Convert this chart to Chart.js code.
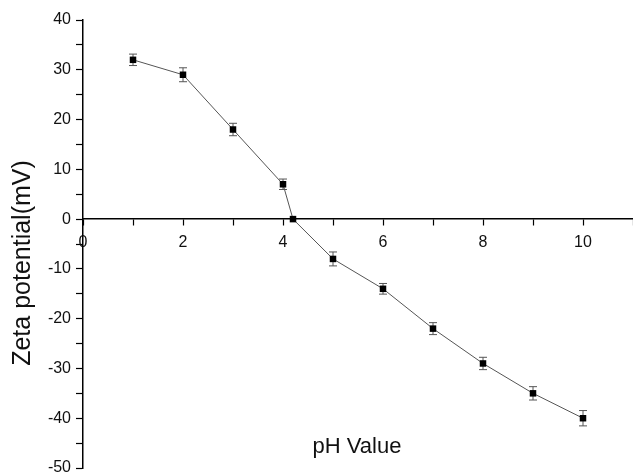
<!DOCTYPE html>
<html>
<head>
<meta charset="utf-8">
<script src="https://cdn.jsdelivr.net/npm/chart.js@4/dist/chart.umd.min.js"></script>
<style>
    html, body { margin: 0; padding: 0; background: #fff; }
    #wrap { width: 633px; height: 472px; position: relative; }
</style>
</head>
<body>
<div id="wrap"><canvas id="zetaChart"></canvas></div>
<script>
// данные
const phValues = [1, 2, 3, 4, 4.2, 5, 6, 7, 8, 9, 10];
const zetaValues = [32, 29, 18, 7, 0, -8, -14, -22, -29, -35, -40];
const zetaErrors = [1.15, 1.4, 1.25, 1.05, 0, 1.4, 1.07, 1.2, 1.24, 1.34, 1.54];

const xTitle = 'pH Value';
const yTitle = 'Zeta potential(mV)';

const FONT = '"Liberation Sans", Arial, sans-serif';

// усы погрешностей рисуем через шкалы графика
const errorBars = {
    id: 'errorBars',
    beforeDatasetsDraw(chart) {
        const { ctx, scales: { x, y } } = chart;
        ctx.save();
        ctx.strokeStyle = '#555';
        ctx.lineWidth = 1;
        phValues.forEach((ph, i) => {
            const err = zetaErrors[i];
            if (!err) return;
            const px = x.getPixelForValue(ph);
            const top = y.getPixelForValue(zetaValues[i] + err);
            const bottom = y.getPixelForValue(zetaValues[i] - err);
            ctx.beginPath();
            ctx.moveTo(px, top);
            ctx.lineTo(px, bottom);
            ctx.moveTo(px - 4, top);
            ctx.lineTo(px + 4, top);
            ctx.moveTo(px - 4, bottom);
            ctx.lineTo(px + 4, bottom);
            ctx.stroke();
        });
        ctx.restore();
    }
};

// подписи осей стоят не там, где их ставит Chart.js
const axisTitles = {
    id: 'axisTitles',
    afterDraw(chart) {
        const { ctx } = chart;
        ctx.save();
        ctx.fillStyle = '#111';
        ctx.textAlign = 'center';
        ctx.textBaseline = 'middle';
        ctx.font = '22px ' + FONT;
        ctx.fillText(xTitle, 357, 447);
        ctx.translate(23, 263);
        ctx.rotate(-Math.PI / 2);
        ctx.font = '25px ' + FONT;
        ctx.fillText(yTitle, 0, 0);
        ctx.restore();
    }
};

new Chart(document.getElementById('zetaChart'), {
    type: 'line',
    data: {
        datasets: [{
            data: phValues.map((ph, i) => ({ x: ph, y: zetaValues[i] })),
            borderColor: '#555',
            borderWidth: 1,
            pointStyle: 'rect',
            pointRadius: 4.6,
            pointBackgroundColor: '#000',
            pointBorderColor: '#000',
            pointBorderWidth: 0,
            tension: 0,
            clip: false,
        }]
    },
    options: {
        responsive: true,
        maintainAspectRatio: false,
        animation: false,
        // без autoPadding, иначе область графика сжимается на радиус маркера
        layout: { autoPadding: false, padding: { top: 20, bottom: 4, left: 0, right: 0 } },
        plugins: { legend: { display: false }, tooltip: { enabled: false } },
        scales: {
            x: {
                type: 'linear',
                min: 0,
                max: 11,
                position: { y: 0 },
                border: { display: true, color: '#000', width: 1.5 },
                grid: { drawOnChartArea: false, drawTicks: true, tickLength: 6, color: '#000', tickWidth: 1.2 },
                ticks: {
                    stepSize: 1,
                    autoSkip: false,
                    maxRotation: 0,
                    padding: 8,
                    color: '#111',
                    font: { family: FONT, size: 16 },
                    callback: (v) => v % 2 === 0 && v <= 10 ? v : '',
                },
                afterFit(scale) {
                    scale.paddingLeft = 0;
                    scale.paddingRight = 0;
                },
            },
            y: {
                type: 'linear',
                min: -50,
                max: 40,
                position: 'left',
                border: { display: true, color: '#000', width: 1.5 },
                grid: { drawOnChartArea: false, drawTicks: true, tickLength: 7, color: '#000', tickWidth: 1.2 },
                ticks: {
                    stepSize: 5,
                    autoSkip: false,
                    padding: 5,
                    color: '#111',
                    font: { family: FONT, size: 16 },
                    callback: (v) => v % 10 === 0 ? v : '',
                },
                afterFit(scale) {
                    scale.width = 83;
                    scale.paddingTop = 0;
                    scale.paddingBottom = 0;
                },
            },
        },
    },
    plugins: [errorBars, axisTitles],
});
</script>
</body>
</html>
